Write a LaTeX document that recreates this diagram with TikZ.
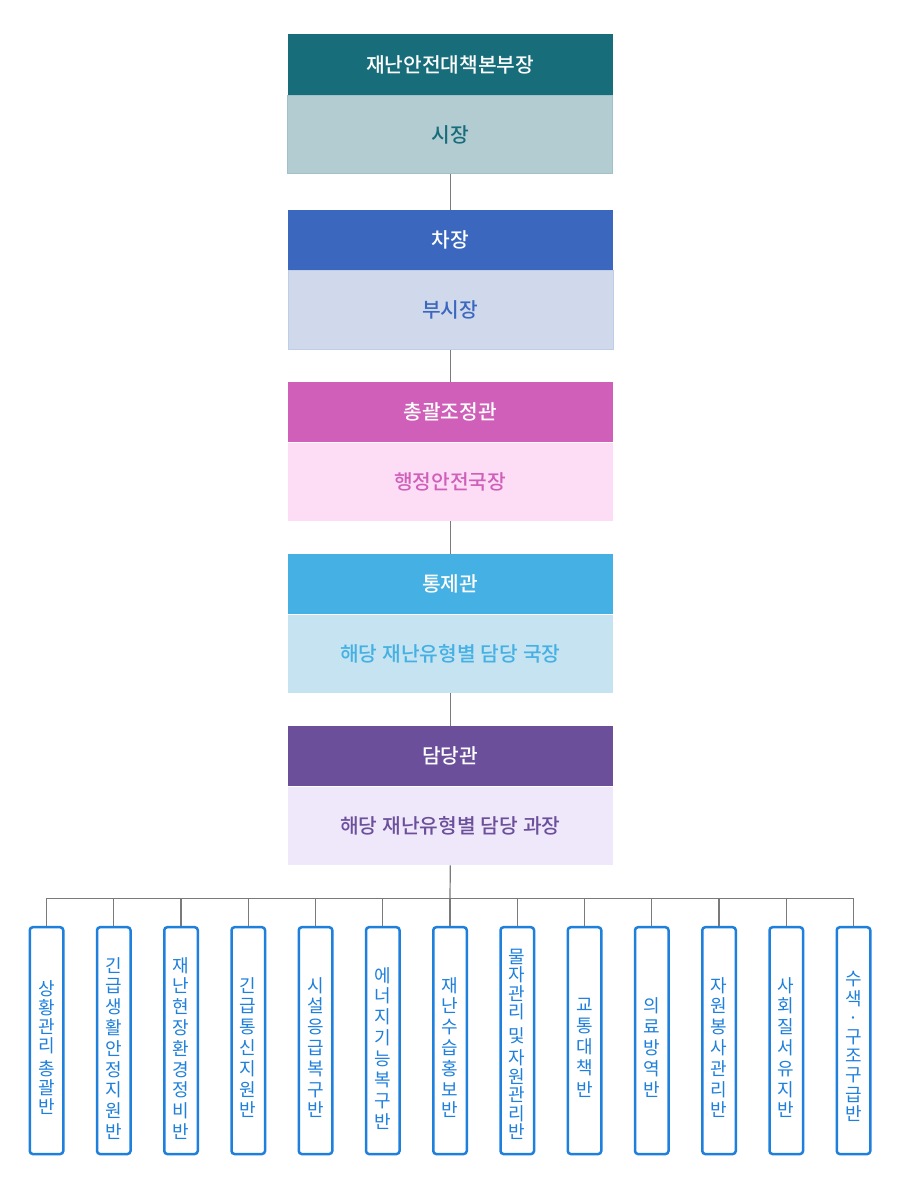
\documentclass[tikz,border=0pt]{standalone}
\usepackage{fontspec}
\newfontfamily\kr{Noto Sans CJK KR}
\IfFontExistsTF{Noto Sans CJK KR Medium}{\newfontfamily\krm{Noto Sans CJK KR Medium}}{\newfontfamily\krm{Noto Sans CJK KR}}
\definecolor{cA}{HTML}{186D7B}
\definecolor{cAs}{HTML}{B3CCD1}
\definecolor{cAb}{HTML}{A0C1C8}
\definecolor{cB}{HTML}{3B68BE}
\definecolor{cBs}{HTML}{D0D9EC}
\definecolor{cBb}{HTML}{BFCDE7}
\definecolor{cC}{HTML}{CF5FB8}
\definecolor{cCs}{HTML}{FDDDF6}
\definecolor{cD}{HTML}{44B0E3}
\definecolor{cDs}{HTML}{C5E3F1}
\definecolor{cE}{HTML}{6B4F9B}
\definecolor{cEs}{HTML}{EFE7FA}
\definecolor{unitblue}{HTML}{1E80DC}
\definecolor{linegray}{HTML}{7A7A7A}
\newcommand{\wsp}{\hspace{5pt}}
\begin{document}
\begin{tikzpicture}[x=1pt,y=-1pt,
  head/.style={anchor=north, minimum width=325pt, minimum height=60pt, inner sep=0pt, text=white, font=\krm\fontsize{20.3}{24}\selectfont},
  subbox/.style={anchor=north, minimum width=325pt, minimum height=78.5pt, inner sep=0pt, font=\krm\fontsize{20.3}{24}\selectfont},
  unit/.style={draw=unitblue, line width=2.5pt, rounded corners=3pt, minimum width=33.5pt, minimum height=226.8pt, inner sep=0pt},
  utext/.style={text=unitblue, align=center, inner sep=0pt},
  conn/.style={draw=linegray, line width=1.2pt}]
\useasboundingbox[fill=white] (0,0) rectangle (900,1198);

% main chain
\node[head, fill=cA, minimum height=61pt] (h1) at (450.3,34) {재난안전대책본부장};
\node[subbox, fill=cAs, draw=cAb, line width=0.8pt, text=cA, minimum height=77.5pt] (s1) at (h1.south) {시장};

\node[head, fill=cB] (h2) at (450.3,210) {차장};
\node[subbox, fill=cBs, draw=cBb, line width=0.6pt, text=cB, minimum height=79pt] (s2) at (h2.south) {부시장};

\node[head, fill=cC] (h3) at (450.3,382) {총괄조정관};
\node[subbox, fill=cCs, text=cC] (s3) at (h3.south) {행정안전국장};

\node[head, fill=cD] (h4) at (450.3,554) {통제관};
\node[subbox, fill=cDs, text=cD] (s4) at (h4.south) {해당\wsp 재난유형별\wsp 담당\wsp 국장};

\node[head, fill=cE] (h5) at (450.3,726) {담당관};
\node[subbox, fill=cEs, text=cE] (s5) at (h5.south) {해당\wsp 재난유형별\wsp 담당\wsp 과장};

\draw[conn] (s1.south) -- (h2.north);
\draw[conn] (s2.south) -- (h3.north);
\draw[conn] (s3.south) -- (h4.north);
\draw[conn] (s4.south) -- (h5.north);

% bottom units
\node[unit] (b1) at (46.5,1040.6) {};
\node[unit] (b2) at (113.75,1040.6) {};
\node[unit] (b3) at (181,1040.6) {};
\node[unit] (b4) at (248.25,1040.6) {};
\node[unit] (b5) at (315.5,1040.6) {};
\node[unit] (b6) at (382.75,1040.6) {};
\node[unit] (b7) at (450,1040.6) {};
\node[unit] (b8) at (517.25,1040.6) {};
\node[unit] (b9) at (584.5,1040.6) {};
\node[unit] (b10) at (651.75,1040.6) {};
\node[unit] (b11) at (719,1040.6) {};
\node[unit] (b12) at (786.25,1040.6) {};
\node[unit] (b13) at (853.5,1040.6) {};

\node[utext, font=\kr\fontsize{18}{19.1}\selectfont] (t1) at (46.5,1047.5) {상\\황\\관\\리\\[4pt]총\\괄\\반};
\node[utext, font=\kr\fontsize{18}{20.8}\selectfont] (t2) at (113.75,1048.3) {긴\\급\\생\\활\\안\\정\\지\\원\\반};
\node[utext, font=\kr\fontsize{18}{20.8}\selectfont] (t3) at (181,1048.3) {재\\난\\현\\장\\환\\경\\정\\비\\반};
\node[utext, font=\kr\fontsize{18}{20.8}\selectfont] (t4) at (248.25,1047.5) {긴\\급\\통\\신\\지\\원\\반};
\node[utext, font=\kr\fontsize{18}{20.8}\selectfont] (t5) at (315.5,1047.5) {시\\설\\응\\급\\복\\구\\반};
\node[utext, font=\kr\fontsize{18}{20.9}\selectfont] (t6) at (382.75,1048.3) {에\\너\\지\\기\\능\\복\\구\\반};
\node[utext, font=\kr\fontsize{18}{20.8}\selectfont] (t7) at (450,1047.5) {재\\난\\수\\습\\홍\\보\\반};
\node[utext, font=\kr\fontsize{18}{18.5}\selectfont] (t8) at (517.25,1044.2) {물\\자\\관\\리\\[5pt]및\\[4pt]자\\원\\관\\리\\반};
\node[utext, font=\kr\fontsize{18}{21.2}\selectfont] (t9) at (584.5,1047.5) {교\\통\\대\\책\\반};
\node[utext, font=\kr\fontsize{18}{21.2}\selectfont] (t10) at (651.75,1047.5) {의\\료\\방\\역\\반};
\node[utext, font=\kr\fontsize{18}{20.8}\selectfont] (t11) at (719,1047.5) {자\\원\\봉\\사\\관\\리\\반};
\node[utext, font=\kr\fontsize{18}{20.8}\selectfont] (t12) at (786.25,1047.5) {사\\회\\질\\서\\유\\지\\반};
\node[utext, font=\kr\fontsize{18}{19.2}\selectfont] (t13) at (853.5,1046.5) {수\\색\\·\\구\\조\\구\\급\\반};

% bus
\coordinate (bus) at (450,898.5);
\draw[conn] (s5.south) -- (bus);
\draw[conn] (b1.north) |- (bus) -| (b13.north);
\foreach \i in {2,...,12} {
  \draw[conn] (b\i.north) -- (b\i.north |- bus);
}
\end{tikzpicture}
\end{document}
